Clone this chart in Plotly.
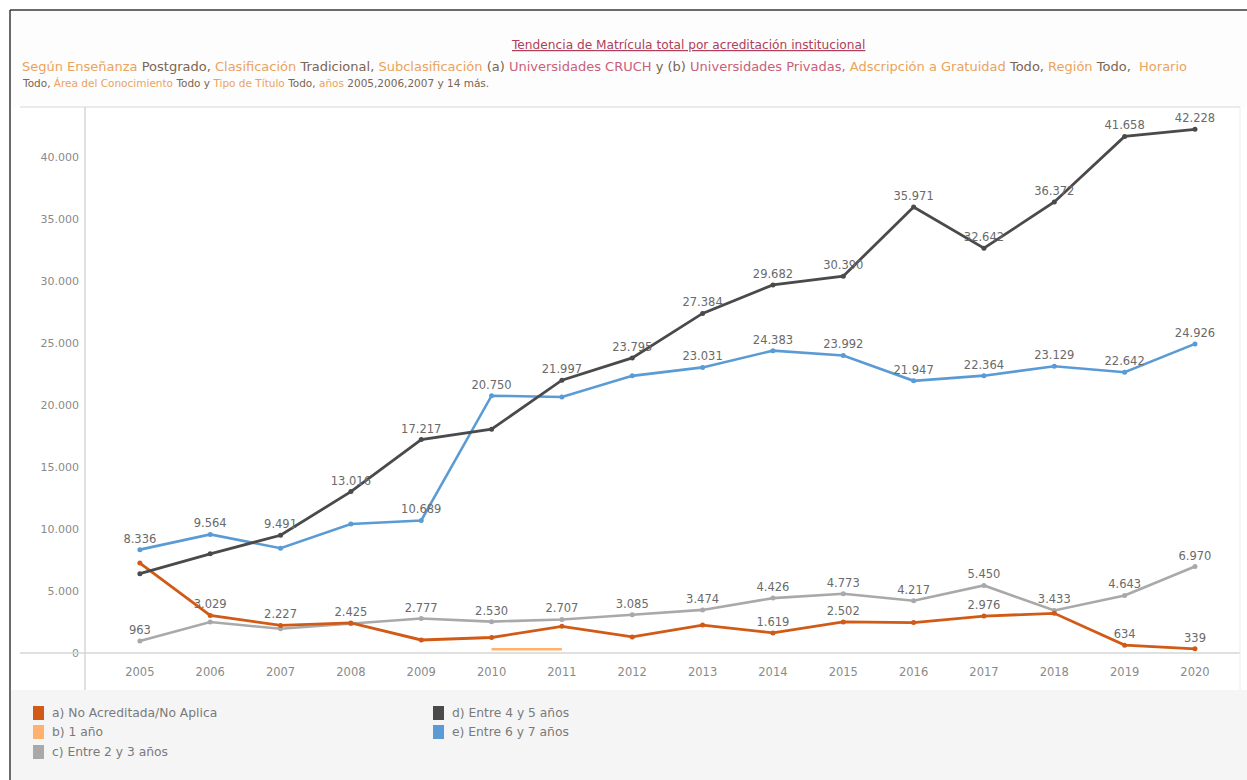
import plotly.graph_objects as go

years = list(range(2005, 2021))

a_no_acreditada = [7250, 3029, 2227, 2425, 1050, 1250, 2150, 1300, 2250, 1619, 2502, 2450, 2976, 3200, 634, 339]
a_labeled = [0, 1, 1, 1, 0, 0, 0, 0, 0, 1, 1, 0, 1, 0, 1, 1]

b_years = [2010, 2011]
b_un_ano = [300, 300]

c_entre_2_3 = [963, 2500, 1950, 2350, 2777, 2530, 2707, 3085, 3474, 4426, 4773, 4217, 5450, 3433, 4643, 6970]
c_labeled = [1, 0, 0, 0, 1, 1, 1, 1, 1, 1, 1, 1, 1, 1, 1, 1]

d_entre_4_5 = [6400, 8000, 9491, 13016, 17217, 18050, 21997, 23795, 27384, 29682, 30390, 35971, 32642, 36372, 41658, 42228]
d_labeled = [0, 0, 1, 1, 1, 0, 1, 1, 1, 1, 1, 1, 1, 1, 1, 1]

e_entre_6_7 = [8336, 9564, 8450, 10400, 10689, 20750, 20650, 22350, 23031, 24383, 23992, 21947, 22364, 23129, 22642, 24926]
e_labeled = [1, 1, 0, 0, 1, 1, 0, 0, 1, 1, 1, 1, 1, 1, 1, 1]

series_names = ["a) No Acreditada/No Aplica", "b) 1 año", "c) Entre 2 y 3 años",
                "d) Entre 4 y 5 años", "e) Entre 6 y 7 años"]
colors = ["#d05a16", "#ffb26e", "#a9a9a9", "#4a4a4a", "#5b9bd5"]

y_ticks = [0, 5000, 10000, 15000, 20000, 25000, 30000, 35000, 40000]

FONT = "DejaVu Sans"


def fmt(v):
    return f"{v:,}".replace(",", ".")


def labels(vals, flags):
    return [fmt(v) if f else "" for v, f in zip(vals, flags)]


lab_font = dict(size=11.5, color="#6a6a6a", family=FONT)

fig = go.Figure()

fig.add_trace(go.Scatter(x=years, y=c_entre_2_3, mode="lines+markers+text",
                         text=labels(c_entre_2_3, c_labeled), textposition="top center",
                         line=dict(color=colors[2], width=2.6), marker=dict(size=5, color=colors[2]),
                         textfont=lab_font, cliponaxis=False))
fig.add_trace(go.Scatter(x=b_years, y=b_un_ano, mode="lines",
                         line=dict(color=colors[1], width=2.6)))
fig.add_trace(go.Scatter(x=years, y=a_no_acreditada, mode="lines+markers+text",
                         text=labels(a_no_acreditada, a_labeled), textposition="top center",
                         line=dict(color=colors[0], width=2.8), marker=dict(size=5, color=colors[0]),
                         textfont=lab_font, cliponaxis=False))
fig.add_trace(go.Scatter(x=years, y=e_entre_6_7, mode="lines+markers+text",
                         text=labels(e_entre_6_7, e_labeled), textposition="top center",
                         line=dict(color=colors[4], width=2.6), marker=dict(size=5, color=colors[4]),
                         textfont=lab_font, cliponaxis=False))
fig.add_trace(go.Scatter(x=years, y=d_entre_4_5, mode="lines+markers+text",
                         text=labels(d_entre_4_5, d_labeled), textposition="top center",
                         line=dict(color=colors[3], width=2.8), marker=dict(size=5, color=colors[3]),
                         textfont=lab_font, cliponaxis=False))

W, H = 1247, 780
L, R, T, B = 85, 7, 107, 127

fig.update_layout(
    width=W, height=H,
    margin=dict(l=L, r=R, t=T, b=B),
    paper_bgcolor="white", plot_bgcolor="white",
    showlegend=False,
    separators=",.",
    font=dict(family=FONT, color="#8a8a8a", size=11),
    xaxis=dict(range=[2004.22, 2020.64], tickmode="array", tickvals=years,
               ticktext=[str(y) for y in years], showgrid=False, zeroline=False,
               showline=False, ticks="", tickfont=dict(size=11.5, color="#8a8a8a", family=FONT),
               ticklabelstandoff=10),
    yaxis=dict(range=[0, 44030], tickmode="array", tickvals=y_ticks,
               ticktext=[fmt(v) for v in y_ticks], showgrid=False, zeroline=False,
               showline=False, ticks="", tickfont=dict(size=11, color="#8a8a8a", family=FONT),
               ticklabelstandoff=5),
)


def px_x(x):
    return (x - L) / (W - L - R)


def px_y(y):
    return (H - B - y) / (H - T - B)


shapes = []
shapes.append(dict(type="rect", xref="paper", yref="paper", x0=px_x(11), x1=px_x(W + 5),
                   y0=px_y(H + 5), y1=px_y(690), fillcolor="#f5f5f5", line=dict(width=0), layer="below"))
shapes.append(dict(type="rect", xref="paper", yref="paper", x0=px_x(11), x1=px_x(W + 5),
                   y0=px_y(107), y1=px_y(11), fillcolor="#fdfdfd", line=dict(width=0), layer="below"))
shapes.append(dict(type="line", xref="paper", yref="paper", x0=px_x(20), x1=px_x(1240),
                   y0=px_y(107), y1=px_y(107), line=dict(color="#e3e3e3", width=1.5)))
shapes.append(dict(type="line", xref="paper", yref="paper", x0=px_x(20), x1=px_x(1240),
                   y0=px_y(653), y1=px_y(653), line=dict(color="#d6d6d6", width=1.5)))
shapes.append(dict(type="line", xref="paper", yref="paper", x0=px_x(85), x1=px_x(85),
                   y0=px_y(107), y1=px_y(690), line=dict(color="#d6d6d6", width=1.5)))
shapes.append(dict(type="line", xref="paper", yref="paper", x0=px_x(1240), x1=px_x(1240),
                   y0=px_y(107), y1=px_y(690), line=dict(color="#ececec", width=1)))
shapes.append(dict(type="line", xref="paper", yref="paper", x0=px_x(10), x1=px_x(W + 5),
                   y0=px_y(10), y1=px_y(10), line=dict(color="#3a3a3a", width=1.5)))
shapes.append(dict(type="line", xref="paper", yref="paper", x0=px_x(10), x1=px_x(10),
                   y0=px_y(10), y1=px_y(H + 5), line=dict(color="#3a3a3a", width=1.5)))

annotations = []
annotations.append(dict(xref="paper", yref="paper", x=px_x(688), y=px_y(45), xanchor="center",
                        yanchor="middle", showarrow=False,
                        text="<u>Tendencia de Matrícula total por acreditación institucional</u>",
                        font=dict(family=FONT, size=12.2, color="#b0405a")))
o = "#eaa35e"
d = "#7a6552"
p = "#c8607a"
line1 = (f"<span style='color:{o}'>Según Enseñanza</span> <span style='color:{d}'>Postgrado,</span> "
         f"<span style='color:{o}'>Clasificación</span> <span style='color:{d}'>Tradicional,</span> "
         f"<span style='color:{o}'>Subclasificación</span> <span style='color:{d}'>(a)</span> "
         f"<span style='color:{p}'>Universidades CRUCH</span> <span style='color:{d}'>y (b)</span> "
         f"<span style='color:{p}'>Universidades Privadas,</span> "
         f"<span style='color:{o}'>Adscripción a Gratuidad</span> <span style='color:{d}'>Todo,</span> "
         f"<span style='color:{o}'>Región</span> <span style='color:{d}'>Todo,</span>  "
         f"<span style='color:{o}'>Horario</span>")
line2 = (f"<span style='color:{d}'>Todo,</span> <span style='color:{o}'>Área del Conocimiento</span> "
         f"<span style='color:{d}'>Todo y</span> <span style='color:{o}'>Tipo de Título</span> "
         f"<span style='color:{d}'>Todo,</span> <span style='color:{o}'>años</span> "
         f"<span style='color:{d}'>2005,2006,2007 y 14 más.</span>")
annotations.append(dict(xref="paper", yref="paper", x=px_x(20), y=px_y(66), xanchor="left",
                        yanchor="middle", showarrow=False, text=line1, align="left",
                        font=dict(family=FONT, size=13, color=d)))
annotations.append(dict(xref="paper", yref="paper", x=px_x(20), y=px_y(83), xanchor="left",
                        yanchor="middle", showarrow=False, text=line2, align="left",
                        font=dict(family=FONT, size=10.5, color=d)))

leg_pos = [(33, 713), (33, 732), (33, 752), (433, 713), (433, 732)]
for name, col, (lx, ly) in zip(series_names, colors, leg_pos):
    shapes.append(dict(type="rect", xref="paper", yref="paper", x0=px_x(lx), x1=px_x(lx + 11),
                       y0=px_y(ly + 7), y1=px_y(ly - 7), fillcolor=col, line=dict(width=0)))
    annotations.append(dict(xref="paper", yref="paper", x=px_x(lx + 17), y=px_y(ly),
                            xanchor="left", yanchor="middle", showarrow=False, text=name,
                            font=dict(family=FONT, size=12.3, color="#7a7a7a")))

fig.update_layout(shapes=shapes, annotations=annotations)
fig.write_html("out.html")
